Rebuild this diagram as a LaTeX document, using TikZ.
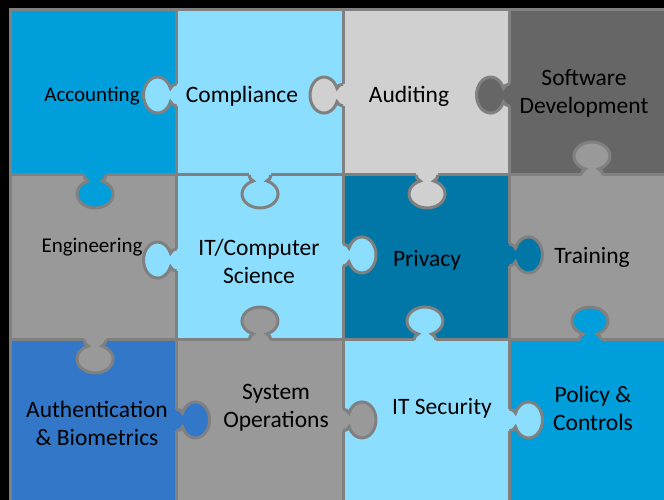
\documentclass[tikz,border=0pt]{standalone}
\usepackage{fontspec}
\setmainfont{Carlito}
\usepackage{xcolor}

\definecolor{accblue}{HTML}{009EDB}
\definecolor{paleblue}{HTML}{8CDEFF}
\definecolor{litegray}{HTML}{D0D0D0}
\definecolor{sgray}{HTML}{666666}
\definecolor{midgray}{HTML}{999999}
\definecolor{privblue}{HTML}{0077A6}
\definecolor{authblue}{HTML}{3277C8}
\definecolor{edgegray}{HTML}{808080}

\tikzset{
  edge/.style={draw=edgegray, line width=3pt},
  lbl/.style={align=center, text=black, font=\fontsize{23.5}{28}\selectfont},
  smalllbl/.style={lbl, font=\fontsize{21}{25}\selectfont}
}

% one tab of a piece, pointing along +x before rotation
\newcommand{\puzknob}[3]{%
  \begin{scope}[shift={#1}, rotate=#2]
    \fill[#3] (-2.5,-11) -- (0,-11) .. controls (3,-11) and (5,-9) .. (6,-6.7)
      arc[start angle=-158, end angle=158, x radius=14, y radius=18]
      .. controls (5,9) and (3,11) .. (0,11) -- (-2.5,11) -- cycle;
    \draw[edge] (0,-11) .. controls (3,-11) and (5,-9) .. (6,-6.7)
      arc[start angle=-158, end angle=158, x radius=14, y radius=18]
      .. controls (5,9) and (3,11) .. (0,11);
  \end{scope}}

\begin{document}
\begin{tikzpicture}[x=1pt, y=1pt]
  \pgfmathsetmacro{\cellw}{166.5}
  \pgfmathsetmacro{\cellh}{165}
  \fill[black] (0,0) rectangle (664,500);
  \useasboundingbox (0,0) rectangle (664,500);
  \clip (0,0) rectangle (664,500);
  % pieces
  \foreach \c/\r/\col in {0/0/accblue, 1/0/paleblue, 2/0/litegray, 3/0/sgray,
                          0/1/midgray, 1/1/paleblue, 2/1/privblue, 3/1/midgray,
                          0/2/authblue, 1/2/midgray, 2/2/paleblue, 3/2/accblue}
    \filldraw[fill=\col, edge] (10+\c*\cellw, 490-\r*\cellh) rectangle ++(\cellw, -\cellh);
  % tabs
  \foreach \px/\py/\ang/\col in {176.5/405/180/paleblue, 343/405/180/litegray, 509.5/405/180/sgray,
                                  176.5/240/180/paleblue, 343/245/0/paleblue, 509.5/245/0/privblue,
                                  176.5/80/0/authblue, 343/80/0/midgray, 509.5/80/0/paleblue,
                                  95/325/-90/accblue, 260/325/-90/paleblue, 427/325/-90/litegray, 592/325/90/midgray,
                                  95/160/-90/midgray, 260/160/90/midgray, 425/160/90/paleblue, 590/160/90/accblue}
    \puzknob{(\px,\py)}{\ang}{\col};
  % labels
  \node[smalllbl] (accounting) at (92,404) {Accounting};
  \node[lbl] (compliance) at (242,404) {Compliance};
  \node[lbl] (auditing) at (409,404) {Auditing};
  \node[lbl] (software) at (584,407) {Software\\Development};
  \node[smalllbl] (engineering) at (92,253) {Engineering};
  \node[lbl] (itcs) at (259,239) {IT/Computer\\Science};
  \node[lbl] (privacy) at (427,240) {Privacy};
  \node[lbl] (training) at (592,243) {Training};
  \node[lbl] (authbio) at (97,77) {Authentication\\\& Biometrics};
  \node[lbl] (sysops) at (276,92) {System\\Operations};
  \node[lbl] (itsec) at (442,92) {IT Security};
  \node[lbl] (policy) at (593,92) {Policy \&\\Controls};
\end{tikzpicture}
\end{document}
